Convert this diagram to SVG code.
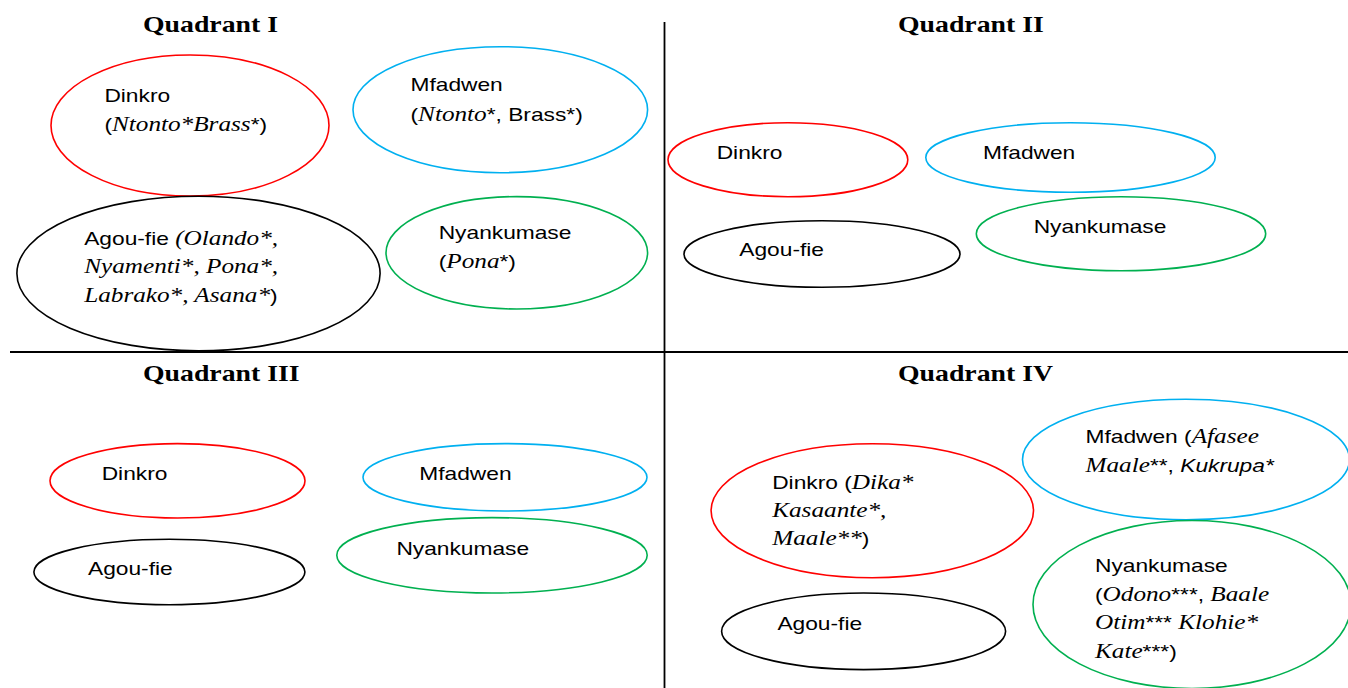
<svg xmlns="http://www.w3.org/2000/svg" width="1348" height="688" viewBox="0 0 1348 688">
<style>
.bg{fill:#ffffff}
.ax{stroke:#000;stroke-width:1.8;fill:none}
.e{fill:none;stroke-width:1.6}
.red{stroke:#FF0000}
.blue{stroke:#00B0F0}
.green{stroke:#00B050}
.black{stroke:#000000}
.t{font-family:"Liberation Serif","Times New Roman",serif;font-weight:bold;font-size:24px;fill:#000}
.s{font-family:"Liberation Sans",Arial,sans-serif;font-size:18.5px;fill:#000}
.i{font-family:"Liberation Serif","Times New Roman",serif;font-style:italic;font-size:20.5px}
.si{font-style:italic}
</style>
<rect class="bg" x="0" y="0" width="1348" height="688"/>
<g id="connectors">
<line class="ax" x1="664.5" y1="22" x2="664.5" y2="688"/>
<line class="ax" x1="10" y1="352" x2="1348" y2="352"/>
</g>
<g id="titles">
<text class="t" transform="translate(143,31.5) scale(1.157,1)">Quadrant I</text>
<text class="t" transform="translate(898,31.5) scale(1.157,1)">Quadrant II</text>
<text class="t" transform="translate(143,380.5) scale(1.157,1)">Quadrant III</text>
<text class="t" transform="translate(898,380.5) scale(1.157,1)">Quadrant IV</text>
</g>
<!-- Quadrant I -->
<g id="q1-dinkro">
<ellipse class="e red" cx="190" cy="125.5" rx="139" ry="70.5"/>
<text class="s" transform="translate(104.4,101.7) scale(1.23,1)"><tspan x="0" y="0">Dinkro</tspan><tspan x="0" y="29">(<tspan class="i">Ntonto*Brass</tspan>*)</tspan></text>
</g>
<g id="q1-mfadwen">
<ellipse class="e blue" cx="500.3" cy="109.7" rx="147.3" ry="63"/>
<text class="s" transform="translate(410.5,90.7) scale(1.23,1)"><tspan x="0" y="0">Mfadwen</tspan><tspan x="0" y="30">(<tspan class="i">Ntonto</tspan>*, Brass*)</tspan></text>
</g>
<g id="q1-agoufie">
<ellipse class="e black" cx="198.5" cy="273.5" rx="181.6" ry="77.3"/>
<text class="s" transform="translate(84.2,245) scale(1.23,1)"><tspan x="0" y="0">Agou-fie <tspan class="i">(Olando*,</tspan></tspan><tspan x="0" y="28.3"><tspan class="i">Nyamenti*, Pona*,</tspan></tspan><tspan x="0" y="56.7"><tspan class="i">Labrako*, Asana*</tspan>)</tspan></text>
</g>
<g id="q1-nyankumase">
<ellipse class="e green" cx="516.8" cy="252.8" rx="130.8" ry="56.2"/>
<text class="s" transform="translate(438.7,239.3) scale(1.23,1)"><tspan x="0" y="0">Nyankumase</tspan><tspan x="0" y="29">(<tspan class="i">Pona</tspan>*)</tspan></text>
</g>
<!-- Quadrant II -->
<g id="q2-dinkro">
<ellipse class="e red" cx="787.9" cy="159.7" rx="119.9" ry="37"/>
<text class="s" transform="translate(716.7,159.3) scale(1.23,1)">Dinkro</text>
</g>
<g id="q2-mfadwen">
<ellipse class="e blue" cx="1070.5" cy="157.5" rx="144.7" ry="34.8"/>
<text class="s" transform="translate(983,159.3) scale(1.23,1)">Mfadwen</text>
</g>
<g id="q2-agoufie">
<ellipse class="e black" cx="822" cy="254" rx="138" ry="33.3"/>
<text class="s" transform="translate(739.3,255.5) scale(1.23,1)">Agou-fie</text>
</g>
<g id="q2-nyankumase">
<ellipse class="e green" cx="1121" cy="233.7" rx="144.7" ry="37"/>
<text class="s" transform="translate(1033.7,232.7) scale(1.23,1)">Nyankumase</text>
</g>
<!-- Quadrant III -->
<g id="q3-dinkro">
<ellipse class="e red" cx="177.5" cy="480.8" rx="127.5" ry="37.2"/>
<text class="s" transform="translate(101.7,479.7) scale(1.23,1)">Dinkro</text>
</g>
<g id="q3-mfadwen">
<ellipse class="e blue" cx="505" cy="477.3" rx="142" ry="33.7"/>
<text class="s" transform="translate(419.3,480) scale(1.23,1)">Mfadwen</text>
</g>
<g id="q3-agoufie">
<ellipse class="e black" cx="169.4" cy="572" rx="135.5" ry="32.7"/>
<text class="s" transform="translate(88,574.7) scale(1.23,1)">Agou-fie</text>
</g>
<g id="q3-nyankumase">
<ellipse class="e green" cx="492" cy="555.3" rx="155.2" ry="37.7"/>
<text class="s" transform="translate(396.4,554.7) scale(1.23,1)">Nyankumase</text>
</g>
<!-- Quadrant IV -->
<g id="q4-dinkro">
<ellipse class="e red" cx="872.3" cy="510.7" rx="161.2" ry="67"/>
<text class="s" transform="translate(772.2,488.7) scale(1.23,1)"><tspan x="0" y="0">Dinkro (<tspan class="i">Dika*</tspan></tspan><tspan x="0" y="28.3"><tspan class="i">Kasaante*,</tspan></tspan><tspan x="0" y="56.6"><tspan class="i">Maale**</tspan>)</tspan></text>
</g>
<g id="q4-mfadwen">
<ellipse class="e blue" cx="1186" cy="459.5" rx="163.5" ry="60.2"/>
<text class="s" transform="translate(1085.5,442.7) scale(1.23,1)"><tspan x="0" y="0">Mfadwen (<tspan class="i">Afasee</tspan></tspan><tspan x="0" y="29.3"><tspan class="i">Maale</tspan>**, <tspan class="si">Kukrupa*</tspan></tspan></text>
</g>
<g id="q4-agoufie">
<ellipse class="e black" cx="863.6" cy="631.3" rx="142" ry="38.3"/>
<text class="s" transform="translate(777.4,629.7) scale(1.23,1)">Agou-fie</text>
</g>
<g id="q4-nyankumase">
<ellipse class="e green" cx="1192" cy="604.5" rx="159" ry="84"/>
<text class="s" transform="translate(1095,572) scale(1.23,1)"><tspan x="0" y="0">Nyankumase</tspan><tspan x="0" y="29">(<tspan class="i">Odono</tspan>***, <tspan class="i">Baale</tspan></tspan><tspan x="0" y="57.3"><tspan class="i">Otim</tspan>*** <tspan class="i">Klohie*</tspan></tspan><tspan x="0" y="85.7"><tspan class="i">Kate</tspan>***)</tspan></text>
</g>
</svg>
